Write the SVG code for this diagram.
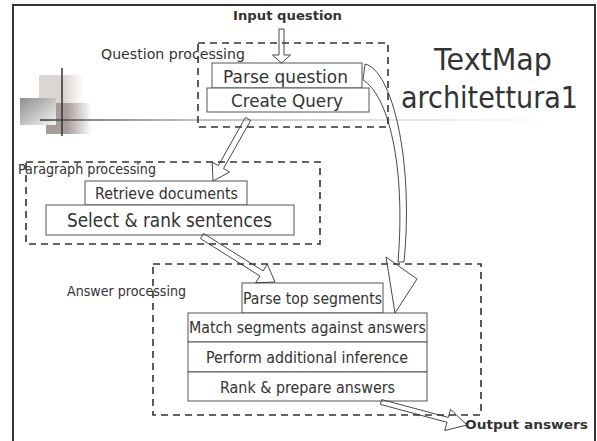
<svg xmlns="http://www.w3.org/2000/svg" width="597" height="441" viewBox="0 0 597 441">
<defs>
<style>
text{font-family:"DejaVu Sans","Liberation Sans",sans-serif;fill:#333;}
.b{font-weight:bold;}
.dash{fill:none;stroke:#333;stroke-width:1.6;stroke-dasharray:7,5;}
.box{fill:#fff;stroke:#555;stroke-width:1;}
.arr{fill:none;stroke:#333;stroke-width:0.9;stroke-linejoin:miter;}
</style>
<linearGradient id="gPale" x1="0" y1="0" x2="1" y2="0">
<stop offset="0" stop-color="#dcd6d3"/><stop offset="0.55" stop-color="#dcd6d3"/><stop offset="1" stop-color="#fff"/>
</linearGradient>
<linearGradient id="gGray" x1="0" y1="0" x2="1" y2="1">
<stop offset="0" stop-color="#8e8e8e"/><stop offset="1" stop-color="#f4f4f4"/>
</linearGradient>
<linearGradient id="gBrown" x1="0" y1="0" x2="1" y2="0">
<stop offset="0" stop-color="#a89c98"/><stop offset="0.45" stop-color="#a89c98"/><stop offset="1" stop-color="#fff"/>
</linearGradient>
<linearGradient id="gLine" gradientUnits="userSpaceOnUse" x1="40" y1="0" x2="550" y2="0">
<stop offset="0" stop-color="#333"/><stop offset="0.06" stop-color="#555"/><stop offset="0.3" stop-color="#aaa"/><stop offset="1" stop-color="#fff"/>
</linearGradient>
</defs>
<rect width="597" height="441" fill="#fff"/>
<rect x="13" y="5" width="582" height="445" fill="none" stroke="#333" stroke-width="2"/>

<g id="decoration">
<rect x="39" y="75" width="45" height="29" fill="url(#gPale)"/>
<rect x="46" y="103" width="46" height="31" fill="url(#gBrown)"/>
<rect x="20" y="98" width="36" height="27" fill="url(#gGray)"/>
<line x1="40" y1="120" x2="550" y2="120" stroke="url(#gLine)" stroke-width="1.6"/>
<line x1="62" y1="68" x2="62" y2="136" stroke="#333" stroke-width="1.5"/>
</g>

<g id="title">
<text x="434" y="70" font-size="31" textLength="118" lengthAdjust="spacingAndGlyphs">TextMap</text>
<text x="401" y="108" font-size="31" textLength="177" lengthAdjust="spacingAndGlyphs">architettura1</text>
</g>

<g id="input">
<text class="b" x="233" y="20" font-size="12.5" textLength="109" lengthAdjust="spacingAndGlyphs">Input question</text>
</g>

<g id="question-processing">
<rect class="dash" x="198" y="43" width="190" height="84"/>
<text x="101" y="59" font-size="13.5" textLength="144" lengthAdjust="spacingAndGlyphs">Question processing</text>
<g id="parse-question">
<rect class="box" x="212" y="63" width="150" height="25"/>
<text x="223" y="83" font-size="17" textLength="125" lengthAdjust="spacingAndGlyphs">Parse question</text>
</g>
<g id="create-query">
<rect class="box" x="207" y="88" width="162" height="24"/>
<text x="231" y="107" font-size="17" textLength="112" lengthAdjust="spacingAndGlyphs">Create Query</text>
</g>
</g>

<g id="paragraph-processing">
<rect class="dash" x="26" y="162" width="294" height="82"/>
<text x="18" y="174" font-size="13.5" textLength="138" lengthAdjust="spacingAndGlyphs">Paragraph processing</text>
<g id="retrieve-documents">
<rect class="box" x="85" y="181" width="162" height="24"/>
<text x="95" y="199" font-size="15" textLength="143" lengthAdjust="spacingAndGlyphs">Retrieve documents</text>
</g>
<g id="select-rank">
<rect class="box" x="46" y="205" width="248" height="30"/>
<text x="67" y="227" font-size="19" textLength="205" lengthAdjust="spacingAndGlyphs">Select &amp; rank sentences</text>
</g>
</g>

<g id="answer-processing">
<rect class="dash" x="153" y="264" width="328" height="151"/>
<text x="67" y="296" font-size="13.5" textLength="119" lengthAdjust="spacingAndGlyphs">Answer processing</text>
<g id="parse-top">
<rect class="box" x="242" y="283" width="141" height="30"/>
<text x="243" y="304" font-size="15.5" textLength="139" lengthAdjust="spacingAndGlyphs">Parse top segments</text>
</g>
<g id="match">
<rect class="box" x="188" y="313" width="239" height="29"/>
<text x="189" y="333" font-size="15.5" textLength="237" lengthAdjust="spacingAndGlyphs">Match segments against answers</text>
</g>
<g id="perform">
<rect class="box" x="188" y="342" width="239" height="30"/>
<text x="206" y="363" font-size="15.5" textLength="202" lengthAdjust="spacingAndGlyphs">Perform additional inference</text>
</g>
<g id="rank">
<rect class="box" x="188" y="372" width="239" height="29"/>
<text x="220" y="393" font-size="15.5" textLength="175" lengthAdjust="spacingAndGlyphs">Rank &amp; prepare answers</text>
</g>
</g>

<g id="output">
<text class="b" x="465" y="429" font-size="13" textLength="123" lengthAdjust="spacingAndGlyphs">Output answers</text>
</g>

<g id="connectors">
<polygon class="arr" points="279,29 279,55 272.5,55 281.5,63 290.5,55 284,55 284,29"/>
<polygon class="arr" points="245.4,117.5 218.3,165.6 212.2,162.2 213,181 229.6,172 223.5,168.5 250.6,120.5"/>
<polygon class="arr" points="200.4,238.5 259.9,276 255.6,282.8 275,282 267.3,264.2 263.1,270.9 203.6,233.5"/>
<polygon class="arr" points="380.4,404.4 447,422.3 444.8,430.5 467,425 450.5,409.2 448.3,417.4 381.7,399.6"/>
<path class="arr" d="M365,64 C392,70 414,160 404,262 L398,262 C406,165 388,95 363,80 Z"/>
<polygon class="arr" points="386,257 417,279 395,313"/>
</g>
</svg>
